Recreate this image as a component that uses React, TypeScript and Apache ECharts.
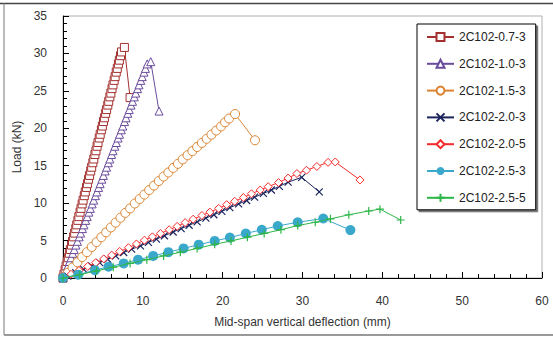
import React, { useEffect, useRef } from "react";
import * as echarts from "echarts";

const FONT = "'Liberation Sans', Arial, Helvetica, sans-serif";

// Specimen names, in legend order
const specimenNames = [
  "2C102-0.7-3",
  "2C102-1.0-3",
  "2C102-1.5-3",
  "2C102-2.0-3",
  "2C102-2.0-5",
  "2C102-2.5-3",
  "2C102-2.5-5",
];

// Load–deflection records: [deflection (mm), load (kN)]
const curve07_3: [number, number][] = [
  [0, 0], [0.12, 0.5], [0.27, 1.1], [0.39, 1.6], [0.53, 2.2], [0.66, 2.7], [0.8, 3.3], [0.92, 3.8],
  [1.07, 4.4], [1.19, 4.9], [1.33, 5.5], [1.46, 6.0], [1.6, 6.6], [1.72, 7.1], [1.87, 7.7], [1.99, 8.2],
  [2.14, 8.8], [2.26, 9.3], [2.4, 9.9], [2.52, 10.4], [2.67, 11.0], [2.79, 11.5], [2.94, 12.1], [3.06, 12.6],
  [3.2, 13.2], [3.33, 13.7], [3.47, 14.3], [3.59, 14.8], [3.74, 15.4], [3.86, 15.9], [4.0, 16.5], [4.13, 17.0],
  [4.27, 17.6], [4.39, 18.1], [4.54, 18.7], [4.66, 19.2], [4.81, 19.8], [4.93, 20.3], [5.07, 20.9], [5.19, 21.4],
  [5.34, 22.0], [5.46, 22.5], [5.61, 23.1], [5.73, 23.6], [5.87, 24.2], [6.0, 24.7], [6.14, 25.3], [6.26, 25.8],
  [6.41, 26.4], [6.53, 26.9], [6.67, 27.5], [6.8, 28.0], [6.94, 28.6], [7.06, 29.1], [7.21, 29.7], [7.33, 30.2],
  [7.69, 30.8], [8.4, 24.1],
];

const curve10_3: [number, number][] = [
  [0, 0], [0.18, 0.5], [0.41, 1.1], [0.59, 1.6], [0.81, 2.2], [1.0, 2.7], [1.22, 3.3], [1.4, 3.8],
  [1.62, 4.4], [1.81, 4.9], [2.03, 5.5], [2.21, 6.0], [2.44, 6.6], [2.62, 7.1], [2.84, 7.7], [3.03, 8.2],
  [3.25, 8.8], [3.43, 9.3], [3.65, 9.9], [3.84, 10.4], [4.06, 11.0], [4.24, 11.5], [4.46, 12.1], [4.65, 12.6],
  [4.87, 13.2], [5.06, 13.7], [5.28, 14.3], [5.46, 14.8], [5.68, 15.4], [5.87, 15.9], [6.09, 16.5], [6.27, 17.0],
  [6.49, 17.6], [6.68, 18.1], [6.9, 18.7], [7.08, 19.2], [7.31, 19.8], [7.49, 20.3], [7.71, 20.9], [7.9, 21.4],
  [8.12, 22.0], [8.3, 22.5], [8.52, 23.1], [8.71, 23.6], [8.93, 24.2], [9.11, 24.7], [9.34, 25.3], [9.52, 25.8],
  [9.74, 26.4], [9.93, 26.9], [10.15, 27.5], [10.33, 28.0], [10.55, 28.6], [10.99, 28.9], [12.03, 22.3],
];

const curve15_3: [number, number][] = [
  [0, 0], [0.6, 0.7], [1.2, 1.4], [1.8, 2.1], [2.4, 2.8], [3.0, 3.45], [3.6, 4.15], [4.2, 4.8],
  [4.8, 5.45], [5.4, 6.1], [6.0, 6.75], [6.6, 7.4], [7.2, 8.05], [7.8, 8.7], [8.4, 9.3], [9.0, 9.95],
  [9.6, 10.55], [10.2, 11.15], [10.8, 11.75], [11.4, 12.35], [12.0, 12.95], [12.6, 13.55], [13.2, 14.1],
  [13.8, 14.7], [14.4, 15.25], [15.0, 15.85], [15.6, 16.4], [16.2, 16.95], [16.8, 17.5], [17.4, 18.05],
  [18.0, 18.6], [18.6, 19.15], [19.2, 19.7], [19.8, 20.25], [20.3, 20.8], [20.8, 21.3], [21.55, 21.9],
  [24.05, 18.4],
];

const curve20_3: [number, number][] = [
  [0, 0], [0.6, 0.25], [1.6, 0.7], [2.6, 1.15], [3.6, 1.6], [4.6, 2.05], [5.6, 2.5], [6.6, 2.95],
  [7.6, 3.4], [8.6, 3.85], [9.7, 4.3], [10.7, 4.75], [11.7, 5.2], [12.7, 5.65], [13.8, 6.15], [14.8, 6.6],
  [15.8, 7.05], [16.8, 7.5], [17.9, 8.0], [18.9, 8.45], [19.9, 8.9], [20.9, 9.4], [22.0, 9.9], [23.0, 10.35],
  [24.0, 10.8], [25.1, 11.3], [26.1, 11.75], [27.1, 12.25], [28.2, 12.8], [29.9, 13.45], [32.1, 11.5],
];

const curve20_5: [number, number][] = [
  [0, 0], [1.0, 0.5], [2.0, 1.0], [3.1, 1.55], [4.1, 2.05], [5.1, 2.55], [6.1, 3.05], [7.1, 3.55],
  [8.2, 4.05], [9.2, 4.55], [10.2, 5.05], [11.2, 5.5], [12.2, 5.95], [13.3, 6.45], [14.3, 6.9], [15.3, 7.4],
  [16.3, 7.85], [17.4, 8.35], [18.4, 8.8], [19.5, 9.3], [20.5, 9.8], [21.5, 10.25], [22.6, 10.75],
  [23.6, 11.25], [24.7, 11.75], [25.7, 12.2], [27.0, 12.75], [28.2, 13.35], [29.3, 13.95], [30.5, 14.4],
  [31.8, 14.9], [33.2, 15.45], [34.1, 15.5], [37.2, 13.1],
];

const curve25_3: [number, number][] = [
  [0, 0], [1.9, 0.45], [4.0, 1.05], [5.7, 1.5], [7.6, 1.95], [9.4, 2.45], [11.3, 2.95], [13.2, 3.45],
  [15.1, 3.95], [17.0, 4.45], [19.0, 4.95], [20.9, 5.4], [22.9, 5.95], [24.9, 6.45], [26.9, 6.95],
  [29.4, 7.45], [32.6, 7.95], [36.0, 6.4],
];

const curve25_5: [number, number][] = [
  [0, 0], [2.1, 0.45], [4.2, 0.95], [6.3, 1.45], [8.4, 1.95], [10.5, 2.45], [12.6, 2.95], [14.7, 3.45],
  [16.8, 3.95], [19.0, 4.5], [21.05, 4.95], [23.1, 5.45], [25.2, 5.95], [27.3, 6.45], [29.4, 7.0],
  [31.6, 7.45], [33.5, 7.9], [35.8, 8.45], [38.3, 8.95], [39.7, 9.2], [42.3, 7.75],
];

const curves = [curve07_3, curve10_3, curve15_3, curve20_3, curve20_5, curve25_3, curve25_5];

const colors = ["#A3302E", "#6A4C9C", "#DB8532", "#1C245E", "#F52A2A", "#3AA8CA", "#2EB548"];

const crossSymbol = "path://M0,0L10,10M10,0L0,10";
const plusSymbol = "path://M5,0L5,10M0,5L10,5";

// Outlined markers use a white fill with a thin coloured border
const symbols = ["rect", "triangle", "circle", crossSymbol, "diamond", "circle", plusSymbol];
const hollow = [true, true, true, false, true, false, false];
const symbolSizes = [8, 8, 9, 7, 8, 10, 8];

export default function App() {
  const ref = useRef<HTMLDivElement>(null);

  useEffect(() => {
    if (!ref.current) return;
    const chart = echarts.init(ref.current, undefined, { renderer: "svg" });

    const series = curves.map((data, i) => ({
      name: specimenNames[i],
      type: "line",
      data,
      symbol: symbols[i],
      symbolSize: symbolSizes[i],
      showAllSymbol: true,
      lineStyle: { color: colors[i], width: 1 },
      itemStyle: {
        color: hollow[i] ? "#ffffff" : colors[i],
        borderColor: colors[i],
        borderWidth: i === 5 ? 0 : hollow[i] ? 1 : 1.2,
      },
      emphasis: { disabled: true },
      z: 2 + i,
    }));

    chart.setOption({
      animation: false,
      backgroundColor: "#ffffff",
      textStyle: { fontFamily: FONT },
      grid: {
        left: 63,
        right: 11,
        top: 16,
        bottom: 61,
        show: true,
        borderColor: "#b0b0b0",
        borderWidth: 1,
        backgroundColor: "#ffffff",
      },
      xAxis: {
        type: "value",
        min: 0,
        max: 60,
        interval: 10,
        name: "Mid-span vertical deflection (mm)",
        nameLocation: "middle",
        nameGap: 38,
        nameTextStyle: { fontSize: 12, color: "#333", fontFamily: FONT },
        axisLine: { show: true, lineStyle: { color: "#000", width: 1 } },
        axisTick: { show: true, inside: true, length: 6, lineStyle: { color: "#000" } },
        minorTick: { show: true, splitNumber: 5, length: 4, lineStyle: { color: "#000" } },
        axisLabel: { fontSize: 12, color: "#333", margin: 17, fontFamily: FONT },
        splitLine: { show: false },
      },
      yAxis: {
        type: "value",
        min: 0,
        max: 35,
        interval: 5,
        name: "Load (kN)",
        nameLocation: "middle",
        nameGap: 38,
        nameTextStyle: { fontSize: 12, color: "#333", fontFamily: FONT },
        axisLine: { show: true, lineStyle: { color: "#000", width: 1 } },
        axisTick: { show: true, inside: true, length: 6, lineStyle: { color: "#000" } },
        minorTick: { show: true, splitNumber: 5, length: 4, lineStyle: { color: "#000" } },
        axisLabel: { fontSize: 12, color: "#333", margin: 16, fontFamily: FONT },
        splitLine: { show: false },
      },
      legend: {
        orient: "vertical",
        left: 417,
        top: 24,
        padding: [7, 10, 6, 9],
        itemWidth: 27,
        itemHeight: 10,
        itemGap: 14.8,
        backgroundColor: "#ffffff",
        borderColor: "#000",
        borderWidth: 1,
        borderRadius: 0,
        shadowColor: "rgba(0,0,0,0.55)",
        shadowBlur: 0,
        shadowOffsetX: 2,
        shadowOffsetY: 2,
        textStyle: { fontSize: 12, color: "#222", fontFamily: FONT },
        data: specimenNames,
      },
      graphic: [
        {
          type: "line",
          shape: { x1: 0, y1: 3.5, x2: 553, y2: 3.5 },
          style: { stroke: "#444", lineWidth: 1.5 },
          silent: true,
        },
        {
          type: "line",
          shape: { x1: 4, y1: 3, x2: 4, y2: 335 },
          style: { stroke: "#777", lineWidth: 1 },
          silent: true,
        },
        {
          type: "line",
          shape: { x1: 4, y1: 335, x2: 553, y2: 335 },
          style: { stroke: "#999", lineWidth: 2 },
          silent: true,
        },
      ],
      series,
    });

    return () => chart.dispose();
  }, []);

  return (
    <div
      ref={ref}
      style={{ position: "absolute", left: 0, top: 0, width: 553, height: 339 }}
    />
  );
}
